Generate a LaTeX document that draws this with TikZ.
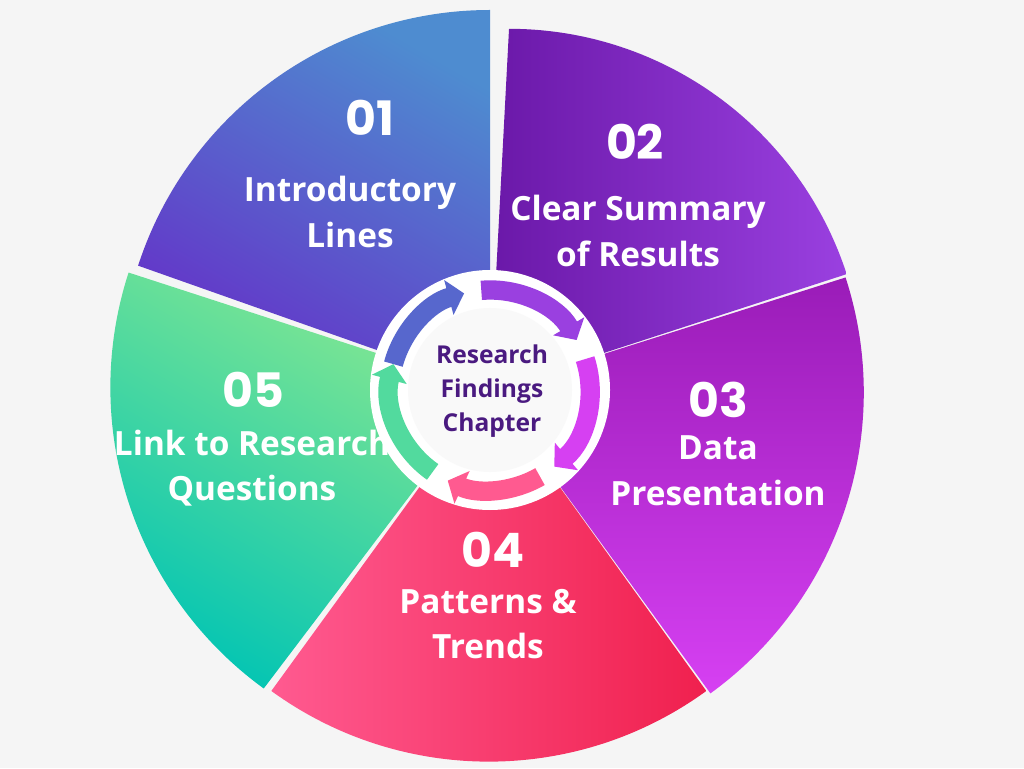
\documentclass[tikz,border=0pt]{standalone}
\usepackage{fontspec}
\setmainfont{Open Sans}
\newfontfamily\numfont{Poppins}
\usetikzlibrary{arrows.meta}
\definecolor{bg}{HTML}{F5F5F5}
\definecolor{inktext}{HTML}{4A1A80}
\definecolor{oneA}{HTML}{4E8CD0}
\definecolor{oneB}{HTML}{6530C8}
\definecolor{twoA}{HTML}{6A18A8}
\definecolor{twoB}{HTML}{9A40E0}
\definecolor{threeA}{HTML}{9A1CB8}
\definecolor{threeB}{HTML}{D640F2}
\definecolor{fourA}{HTML}{FF5A90}
\definecolor{fourB}{HTML}{F0204E}
\definecolor{fiveA}{HTML}{88E890}
\definecolor{fiveB}{HTML}{00C4B4}
\tikzset{
  num/.style={text=white,font=\numfont\bfseries\fontsize{27}{30}\selectfont},
  lbl/.style={text=white,font=\bfseries\fontsize{19}{26}\selectfont,align=center},
  mid/.style={text=inktext,font=\bfseries\fontsize{14}{19.5}\selectfont,align=center},
  ring/.style={line width=11pt,-{Triangle[length=9pt,width=20pt]}}
}
\begin{document}
\begin{tikzpicture}[x=0.02cm,y=0.02cm]
  \useasboundingbox (0,0) rectangle (1024,768);
  \fill[bg] (0,0) rectangle (1024,768);
  \coordinate (c) at (490,378);
  % sectors
  \shade[top color=oneA, bottom color=oneB, shading angle=-30]
    (c) -- ++(90:380) arc (90:162:370) -- cycle;
  \shade[left color=twoA, right color=twoB]
    (c) -- ++(18:375) arc (18:90:355) -- cycle;
  \shade[top color=threeA, bottom color=threeB]
    (c) -- ++(-54:375) arc (-54:18:372) -- cycle;
  \shade[left color=fourA, right color=fourB]
    (c) -- ++(-126:372) arc (-126:-54:370) -- cycle;
  \shade[top color=fiveA, bottom color=fiveB, shading angle=-30]
    (c) -- ++(162:380) arc (162:234:372) -- cycle;
  % hub
  \fill[white] (c) circle (120);
  \fill[bg!60!white] (c) circle (82);
  \draw[ring,oneA!60!oneB] (c) ++(165:100) arc (165:105:100);
  \draw[ring,twoB] (c) ++(95:100) arc (95:30:100);
  \draw[ring,threeB] (c) ++(18:100) arc (18:-50:100);
  \draw[ring,fourA] (c) ++(-60:100) arc (-60:-115:100);
  \draw[ring,fiveA!60!fiveB] (c) ++(-125:100) arc (-125:-195:100);
  % texts
  \node[num] (n1) at (370,650) {01};
  \node[lbl] (t1) at (350,556) {Introductory\\Lines};
  \node[num] (n2) at (635,626) {02};
  \node[lbl] (t2) at (638,537) {Clear Summary\\of Results};
  \node[num] (n3) at (718,368) {03};
  \node[lbl] (t3) at (718,297) {Data\\Presentation};
  \node[num] (n4) at (493,218) {04};
  \node[lbl] (t4) at (488,144) {Patterns \&\\Trends};
  \node[num] (n5) at (253,378) {05};
  \node[lbl] (t5) at (252,300) {Link to Research\\Questions};
  \node[mid] (ctr) at (492,377) {Research\\Findings\\Chapter};
\end{tikzpicture}
\end{document}
